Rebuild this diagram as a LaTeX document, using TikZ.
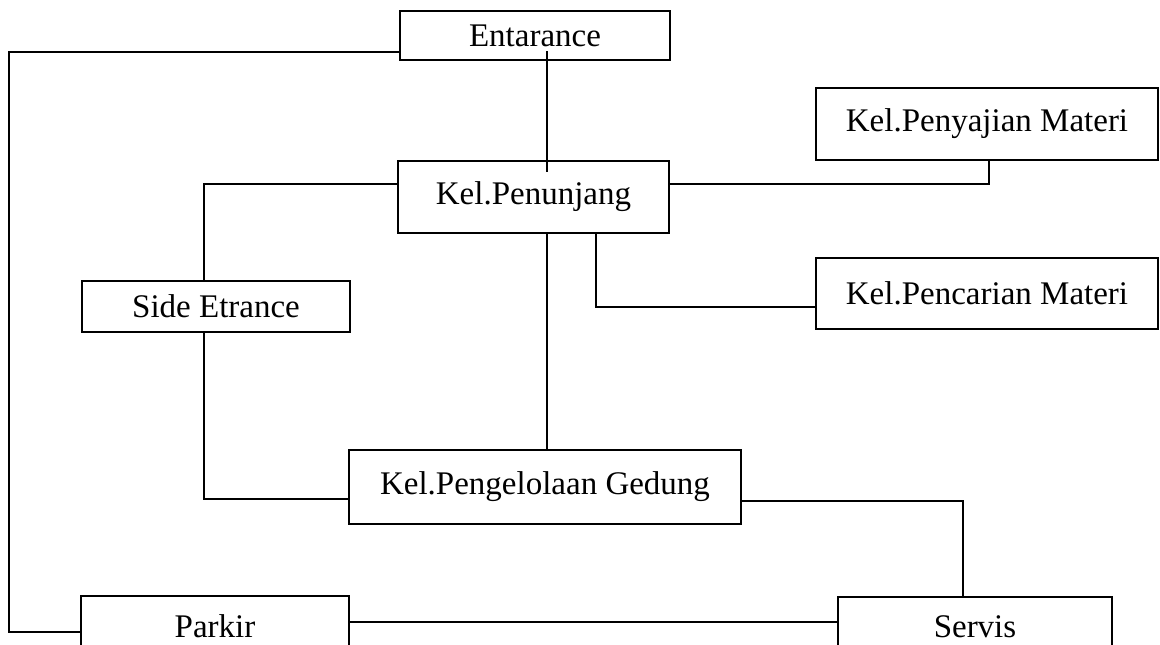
\documentclass[tikz,border=0pt]{standalone}
\usepackage{fontspec}
\setmainfont{Liberation Serif}
\begin{document}
\begin{tikzpicture}[x=1pt, y=-1pt, line width=2.3pt,
		kotak/.style={draw, rectangle, inner sep=0pt, font=\fontsize{33}{38}\selectfont}]
		\clip (0,0) rectangle (1160,645);
		\node[kotak, minimum width=270pt, minimum height=49pt] (entr) at (535,35.5) {Entarance};
		\node[kotak, minimum width=271pt, minimum height=72pt] (penunjang) at (533.5,197) {Kel.Penunjang};
		\node[kotak, minimum width=342pt, minimum height=72pt] (penyajian) at (987,124) {Kel.Penyajian Materi};
		\node[kotak, minimum width=342pt, minimum height=71pt] (pencarian) at (987,293.5) {Kel.Pencarian Materi};
		\node[kotak, minimum width=268pt, minimum height=51pt] (side) at (216,306.5) {Side Etrance};
		\node[kotak, minimum width=392pt, minimum height=74pt] (kelola) at (545,487) {Kel.Pengelolaan Gedung};
		\node[kotak, minimum width=268pt, minimum height=60pt] (parkir) at (215,626) {Parkir};
		\node[kotak, minimum width=274pt, minimum height=60pt] (servis) at (975,627) {Servis};
		\draw ([yshift=-16.5pt]entr.west) -- (9,52) |- ([yshift=-6pt]parkir.west);
		\draw ([xshift=12pt,yshift=10pt]entr.south) -- ([xshift=13.5pt,yshift=-12pt]penunjang.north);
		\draw ([yshift=13pt]penunjang.west) -| ([xshift=-12pt]side.north);
		\draw ([yshift=13pt]penunjang.east) -| ([xshift=2pt]penyajian.south);
		\draw ([xshift=62.5pt]penunjang.south) |- ([yshift=-13.5pt]pencarian.west);
		\draw ([xshift=13.5pt]penunjang.south) -- ([xshift=2pt]kelola.north);
		\draw ([xshift=-12pt]side.south) |- ([yshift=-12pt]kelola.west);
		\draw ([yshift=-14pt]kelola.east) -| ([xshift=-12pt]servis.north);
		\draw ([yshift=4pt]parkir.east) -- ([yshift=5pt]servis.west);
	\end{tikzpicture}
\end{document}
